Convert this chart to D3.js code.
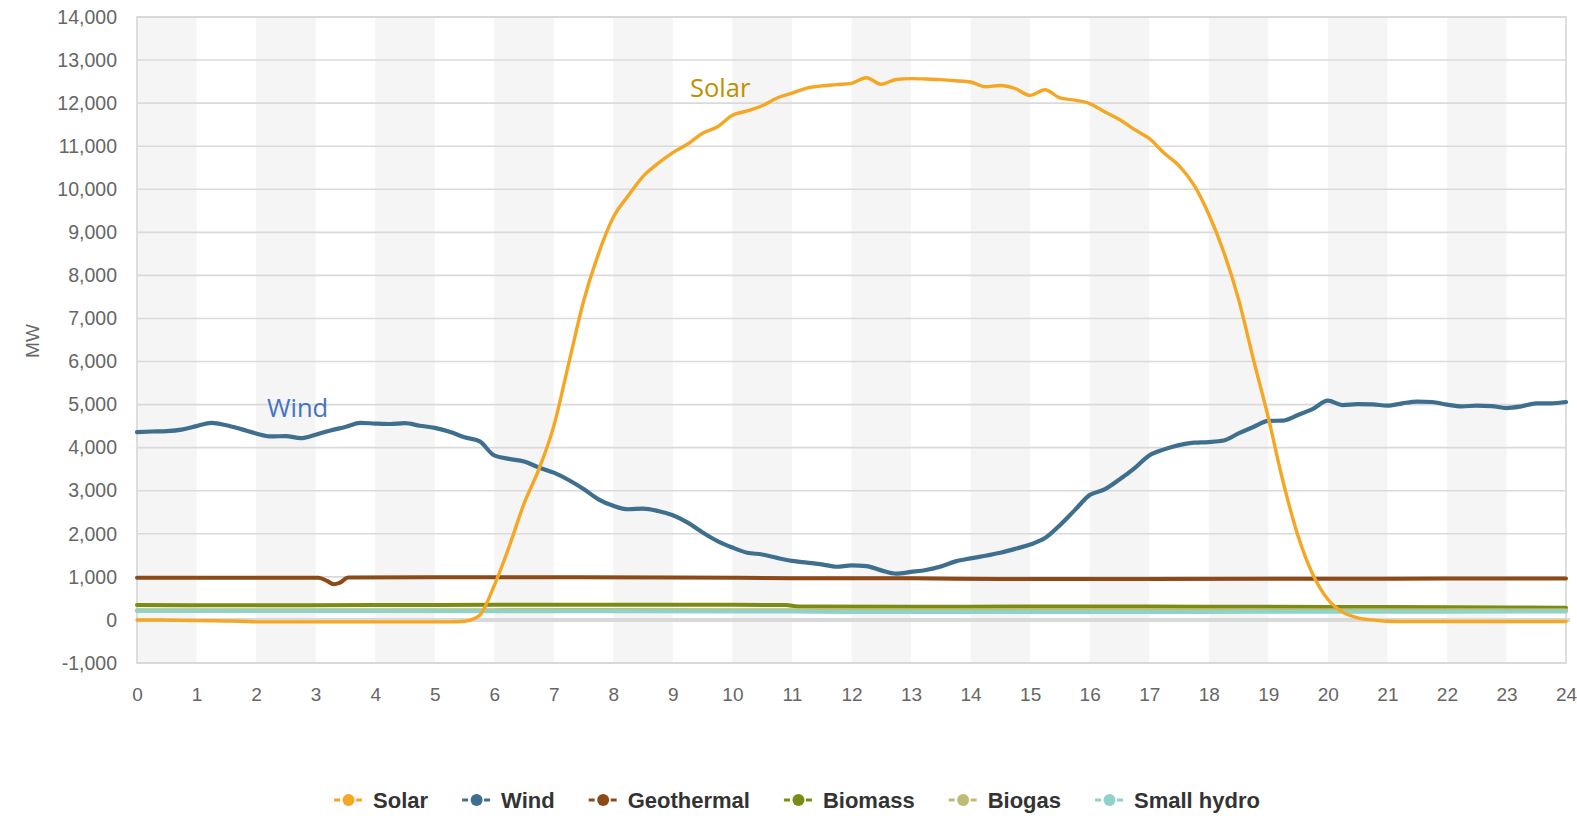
<!DOCTYPE html>
<html>
<head>
<meta charset="utf-8">
<script src="https://cdn.jsdelivr.net/npm/d3@7"></script>
<style>
  html, body { margin: 0; padding: 0; background: #ffffff; }
  svg { display: block; }
</style>
</head>
<body>
<svg id="chart" width="1577" height="816"></svg>
<script>
// ---------- DATA ----------
const seriesNames = ["Solar", "Wind", "Geothermal", "Biomass", "Biogas", "Small hydro"];
const seriesColors = ["#F5A623", "#3E6F8E", "#8B4A17", "#7C8C12", "#BDBB76", "#8FD3C8"];

const xTickLabels = ["0","1","2","3","4","5","6","7","8","9","10","11","12","13","14","15","16","17","18","19","20","21","22","23","24"];
const yTickValues = [-1000,0,1000,2000,3000,4000,5000,6000,7000,8000,9000,10000,11000,12000,13000,14000];

// quarter-hour readings (00:00 .. 24:00)
const solarValues = [
  0, 0, -5, -10, -15, -20, -25, -30,
  -45, -45, -45, -45, -45, -45, -45, -45,
  -45, -45, -45, -45, -45, -45, -30, 100,
  800, 1700, 2700, 3500, 4500, 5950, 7400, 8500,
  9350, 9850, 10300, 10600, 10850, 11050, 11300, 11450,
  11720, 11820, 11940, 12120, 12230, 12350, 12400, 12430,
  12460, 12590, 12440, 12550, 12570, 12560, 12545, 12520,
  12490, 12380, 12410, 12340, 12180, 12310, 12120, 12070,
  11990, 11800, 11620, 11390, 11180, 10840, 10550, 10100,
  9420, 8550, 7450, 6050, 4700, 3200, 1950, 1050,
  480, 180, 50, 0, -30, -35, -35, -35,
  -35, -35, -35, -35, -35, -35, -35, -35,
  -35
];
const windValues = [
  4360, 4375, 4385, 4420, 4500, 4575, 4520, 4430,
  4330, 4260, 4270, 4220, 4300, 4400, 4480, 4575,
  4560, 4550, 4570, 4510, 4460, 4370, 4240, 4150,
  3820, 3740, 3680, 3540, 3420, 3250, 3040, 2800,
  2650, 2570, 2585, 2530, 2430, 2260, 2030, 1830,
  1680, 1560, 1520, 1440, 1370, 1330, 1290, 1235,
  1265, 1250, 1150, 1075, 1115, 1160, 1240, 1360,
  1430, 1490, 1560, 1650, 1750, 1900, 2200, 2550,
  2900, 3030, 3260, 3520, 3820, 3960, 4060, 4115,
  4130, 4165, 4330, 4480, 4620, 4630, 4760, 4900,
  5090, 4990, 5010, 5005, 4975, 5030, 5070, 5060,
  5000, 4960, 4975, 4965, 4920, 4960, 5030, 5030,
  5060
];

// sparse readings for the nearly flat series
const geoHours  = [0, 1.5, 3.05, 3.2, 3.3, 3.4, 3.55, 6, 9, 11, 13, 14.5, 17, 20, 22, 24];
const geoValues = [980, 980, 980, 900, 830, 860, 985, 990, 985, 970, 965, 950, 950, 955, 960, 960];

const biomassHours  = [0, 2, 4, 6, 8, 10, 10.9, 11.1, 13, 15, 17, 19, 21, 23, 24];
const biomassValues = [345, 340, 345, 350, 355, 350, 345, 310, 305, 310, 310, 305, 300, 290, 285];

const biogasHours  = [0, 4, 8, 12, 16, 20, 24];
const biogasValues = [225, 225, 230, 225, 225, 225, 225];

const hydroHours  = [0, 4, 8, 11, 12, 16, 20, 24];
const hydroValues = [205, 205, 200, 195, 185, 185, 190, 195];

// ---------- CHART ----------
const svg = d3.select("#chart");
const plotL = 137, plotR = 1566, plotT = 17, plotB = 663;

const x = d3.scaleLinear().domain([0, 24]).range([plotL, plotR]);
const y = d3.scaleLinear().domain([-1000, 14000]).range([plotB, plotT]);

// alternating hour stripes
const stripeStarts = xTickLabels.map(Number).filter(h => h < 24 && h % 2 === 0);
svg.append("g").selectAll("rect").data(stripeStarts).join("rect")
  .attr("x", d => x(d)).attr("y", plotT)
  .attr("width", d => x(d + 1) - x(d)).attr("height", plotB - plotT)
  .attr("fill", "#f5f5f5");

// horizontal gridlines
svg.append("g").selectAll("line").data(yTickValues.filter(v => v !== 0)).join("line")
  .attr("x1", plotL).attr("x2", plotR)
  .attr("y1", d => y(d)).attr("y2", d => y(d))
  .attr("stroke", "#dadada").attr("stroke-width", 1.6);

// zero line
svg.append("line")
  .attr("x1", plotL).attr("x2", plotR + 4)
  .attr("y1", y(0)).attr("y2", y(0))
  .attr("stroke", "#d9d9d9").attr("stroke-width", 4);

// plot frame
svg.append("rect")
  .attr("x", plotL).attr("y", plotT)
  .attr("width", plotR - plotL).attr("height", plotB - plotT)
  .attr("fill", "none").attr("stroke", "#d6d6d6").attr("stroke-width", 1.6);

// axes
const tickFont = "'Liberation Sans', Arial, sans-serif";
const commaFmt = d3.format(",");
const yAxis = d3.axisLeft(y).tickValues(yTickValues).tickSize(0).tickPadding(20)
  .tickFormat(d => commaFmt(d).replace("\u2212", "-"));
const gy = svg.append("g").attr("transform", `translate(${plotL},0)`).call(yAxis);
gy.select(".domain").remove();
gy.selectAll("text").attr("font-family", tickFont).attr("font-size", 19.5).attr("fill", "#666");

const xAxis = d3.axisBottom(x).tickValues(xTickLabels.map(Number)).tickSize(0).tickPadding(25)
  .tickFormat((d, i) => xTickLabels[i]);
const gx = svg.append("g").attr("transform", `translate(0,${plotB})`).call(xAxis);
gx.select(".domain").remove();
gx.selectAll("text").attr("font-family", tickFont).attr("font-size", 19).attr("fill", "#666");

// y label
svg.append("text")
  .attr("transform", `translate(39,341) rotate(-90)`)
  .attr("text-anchor", "middle")
  .attr("font-family", tickFont).attr("font-size", 19).attr("fill", "#666")
  .text("MW");

// series
const quarter = i => i / 4;
const seriesData = [
  solarValues.map((v, i) => [quarter(i), v]),
  windValues.map((v, i) => [quarter(i), v]),
  geoHours.map((h, i) => [h, geoValues[i]]),
  biomassHours.map((h, i) => [h, biomassValues[i]]),
  biogasHours.map((h, i) => [h, biogasValues[i]]),
  hydroHours.map((h, i) => [h, hydroValues[i]])
];
const widths = [3.4, 4.2, 4, 4, 4, 4];
const line = d3.line().x(d => x(d[0])).y(d => y(d[1])).curve(d3.curveMonotoneX);

const order = [2, 3, 4, 5, 1, 0];
svg.append("g").selectAll("path").data(order).join("path")
  .attr("d", i => line(seriesData[i]))
  .attr("fill", "none")
  .attr("stroke", i => seriesColors[i])
  .attr("stroke-width", i => widths[i])
  .attr("stroke-linejoin", "round")
  .attr("stroke-linecap", "round");

// annotations
const annFont = "'Open Sans', 'Noto Sans', sans-serif";
svg.append("text").attr("x", 690).attr("y", 97)
  .attr("font-family", annFont).attr("font-size", 25.5).attr("fill", "#BF9000")
  .text("Solar");
svg.append("text").attr("x", 267).attr("y", 417)
  .attr("font-family", annFont).attr("font-size", 25.5).attr("fill", "#4472C4")
  .text("Wind");

// legend
const legendY = 800;
const legendFont = "'Liberation Sans', Arial, sans-serif";
const legend = svg.append("g");
const items = legend.selectAll("g").data(seriesNames).join("g");
items.append("text")
  .attr("x", 39).attr("y", 8)
  .attr("font-family", legendFont).attr("font-size", 22).attr("font-weight", "bold")
  .attr("fill", "#333")
  .text(d => d);
items.append("line")
  .attr("x1", 0).attr("x2", 29).attr("y1", 0).attr("y2", 0)
  .attr("stroke", (d, i) => seriesColors[i]).attr("stroke-width", 3)
  .attr("stroke-dasharray", "6,5");
items.append("circle")
  .attr("cx", 14.5).attr("cy", 0).attr("r", 6)
  .attr("fill", (d, i) => seriesColors[i]);
let cursor = 0;
const gap = 34;
const offsets = [];
items.each(function () {
  offsets.push(cursor);
  const tw = this.querySelector("text").getComputedTextLength();
  cursor += 39 + tw + gap;
});
const total = cursor - gap;
const startX = 797 - total / 2;
items.attr("transform", (d, i) => `translate(${startX + offsets[i]},${legendY})`);
</script>
</body>
</html>
